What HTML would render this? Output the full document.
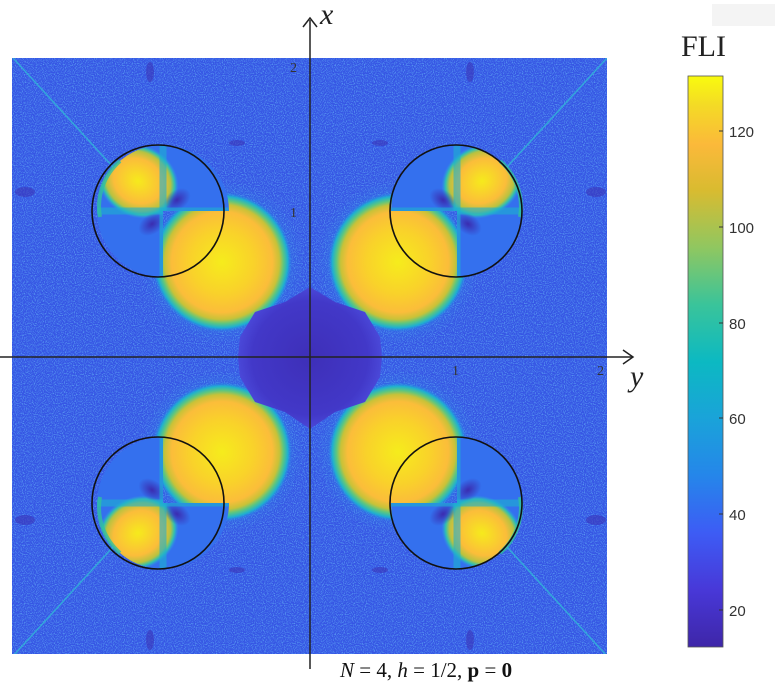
<!DOCTYPE html>
<html><head><meta charset="utf-8"><style>
html,body{margin:0;padding:0;background:#fff;}
svg{display:block;}
</style></head><body>
<svg width="775" height="686" viewBox="0 0 775 686" xmlns="http://www.w3.org/2000/svg">
<defs>
<linearGradient id="cb" x1="0" y1="1" x2="0" y2="0">
<stop offset="0" stop-color="#3e26a8"/><stop offset="0.1" stop-color="#4838d8"/>
<stop offset="0.2" stop-color="#3d5cf5"/><stop offset="0.3" stop-color="#2586ea"/>
<stop offset="0.4" stop-color="#1aa3d9"/><stop offset="0.5" stop-color="#0cb9c2"/>
<stop offset="0.6" stop-color="#3ac49a"/><stop offset="0.7" stop-color="#90c760"/>
<stop offset="0.8" stop-color="#d9bb30"/><stop offset="0.88" stop-color="#fbb93a"/>
<stop offset="0.95" stop-color="#f4db25"/><stop offset="1" stop-color="#f9fb0e"/>
</linearGradient>
<radialGradient id="blob">
<stop offset="0" stop-color="#f6ec1c"/><stop offset="0.45" stop-color="#f9d22a"/>
<stop offset="0.72" stop-color="#fbbd3a"/><stop offset="0.82" stop-color="#c8c238"/>
<stop offset="0.88" stop-color="#5cc680"/><stop offset="0.94" stop-color="#1eb0d0"/>
<stop offset="1" stop-color="#2a78ee" stop-opacity="0"/>
</radialGradient>
<radialGradient id="lobe">
<stop offset="0" stop-color="#f6ea1c"/><stop offset="0.6" stop-color="#fbbd3a"/>
<stop offset="0.8" stop-color="#b8c240"/><stop offset="0.9" stop-color="#30c0b0"/>
<stop offset="1" stop-color="#2a9aea" stop-opacity="0"/>
</radialGradient>
<radialGradient id="dark">
<stop offset="0" stop-color="#3a2cb0"/><stop offset="1" stop-color="#3a2cb0" stop-opacity="0"/>
</radialGradient>
<radialGradient id="halo">
<stop offset="0.5" stop-color="#2aa0e0" stop-opacity="0.5"/><stop offset="1" stop-color="#2aa0e0" stop-opacity="0"/>
</radialGradient>
<radialGradient id="ctr">
<stop offset="0" stop-color="#3e2fb8"/><stop offset="0.8" stop-color="#4238c8"/><stop offset="1" stop-color="#4a48d8"/>
</radialGradient>
<filter id="noise" x="0" y="0" width="100%" height="100%">
<feTurbulence type="fractalNoise" baseFrequency="0.9" numOctaves="1" seed="3"/>
<feColorMatrix type="matrix" values="0 0 0 0 0.15  0 0 0 0 0.55  0 0 0 0 0.95  0 0 0 2.2 -1.0"/>
</filter>
<clipPath id="plot"><rect x="12" y="58" width="595" height="596"/></clipPath>
<clipPath id="qc"><path d="M147,-146 L81,-146 A66,66 0 1,1 147,-80 Z"/></clipPath>
<g id="q">
<circle cx="88" cy="-95" r="82" fill="url(#halo)"/>
<circle cx="88" cy="-95" r="70" fill="url(#blob)"/>
<g clip-path="url(#qc)">
<rect x="70" y="-220" width="150" height="150" fill="#3470ee"/>
<ellipse cx="172" cy="-176" rx="42" ry="36" fill="url(#lobe)" transform="rotate(-30 172 -176)"/>
<ellipse cx="133" cy="-157" rx="15" ry="10" fill="url(#dark)" transform="rotate(35 133 -157)"/>
<ellipse cx="158" cy="-133" rx="15" ry="10" fill="url(#dark)" transform="rotate(35 158 -133)"/>
<line x1="147" y1="-215" x2="147" y2="-80" stroke="#1fb0d0" stroke-width="7" opacity="0.6"/>
<line x1="78" y1="-146" x2="215" y2="-146" stroke="#1fb0d0" stroke-width="7" opacity="0.6"/>
</g>
<path d="M 190 -196 A 60 60 0 0 1 210 -140" fill="none" stroke="#30c0a0" stroke-width="4" opacity="0.8"/>
<line x1="197" y1="-190" x2="297" y2="-299" stroke="#30b8d8" stroke-width="1.5" opacity="0.8"/>
</g>
</defs>
<g clip-path="url(#plot)">
<rect x="12" y="58" width="595" height="596" fill="#3656e4"/>
<rect x="12" y="58" width="595" height="596" filter="url(#noise)" opacity="0.9"/>
<g transform="translate(310,357)">
<use href="#q"/>
<use href="#q" transform="scale(-1,1)"/>
<use href="#q" transform="scale(1,-1)"/>
<use href="#q" transform="scale(-1,-1)"/>
<polygon points="0,-70 25,-55 55,-45 70,-20 72,0 70,20 55,45 25,55 0,72 -25,55 -55,45 -70,20 -72,0 -70,-20 -55,-45 -25,-55" fill="url(#ctr)"/>
</g>
<g fill="#3a2cb0" opacity="0.5">
<ellipse cx="150" cy="72" rx="4" ry="10"/><ellipse cx="470" cy="72" rx="4" ry="10"/>
<ellipse cx="150" cy="640" rx="4" ry="10"/><ellipse cx="470" cy="640" rx="4" ry="10"/>
<ellipse cx="25" cy="192" rx="10" ry="5"/><ellipse cx="25" cy="520" rx="10" ry="5"/>
<ellipse cx="596" cy="192" rx="10" ry="5"/><ellipse cx="596" cy="520" rx="10" ry="5"/>
<ellipse cx="237" cy="143" rx="8" ry="3"/><ellipse cx="380" cy="143" rx="8" ry="3"/>
<ellipse cx="237" cy="570" rx="8" ry="3"/><ellipse cx="380" cy="570" rx="8" ry="3"/>
</g>
</g>
<g fill="none" stroke="#111" stroke-width="1.6">
<circle cx="456" cy="211" r="66"/><circle cx="158" cy="211" r="66"/>
<circle cx="456" cy="503" r="66"/><circle cx="158" cy="503" r="66"/>
</g>
<g stroke="#222" stroke-width="1.5" fill="none">
<line x1="310" y1="20" x2="310" y2="669"/>
<line x1="0" y1="357" x2="632" y2="357"/>
<polyline points="303,27 310,18 317,27"/>
<polyline points="623,350 633,357 623,364"/>
</g>
<g font-family="'Liberation Serif',serif" fill="#333" font-size="14">
<text x="290" y="72">2</text><text x="290" y="217">1</text>
<text x="452" y="375">1</text><text x="597" y="375">2</text>
</g>
<text x="320" y="24" font-family="'Liberation Serif',serif" font-style="italic" font-size="30" fill="#222">x</text>
<text x="630" y="386" font-family="'Liberation Serif',serif" font-style="italic" font-size="30" fill="#222">y</text>
<text x="340" y="677" font-family="'Liberation Serif',serif" font-size="21" fill="#111"><tspan font-style="italic">N</tspan> = 4,  <tspan font-style="italic">h</tspan> = 1/2,  <tspan font-weight="bold">p</tspan> = <tspan font-weight="bold">0</tspan></text>
<rect x="712" y="4" width="63" height="22" fill="#f4f4f4"/>
<text x="681" y="56" font-family="'Liberation Serif',serif" font-size="30" fill="#222">FLI</text>
<rect x="688" y="76" width="35" height="571" fill="url(#cb)" stroke="#555" stroke-width="0.8"/>
<g stroke="#333" stroke-width="1">
<line x1="719" y1="131" x2="723" y2="131"/><line x1="719" y1="227" x2="723" y2="227"/>
<line x1="719" y1="323" x2="723" y2="323"/><line x1="719" y1="418" x2="723" y2="418"/>
<line x1="719" y1="514" x2="723" y2="514"/><line x1="719" y1="610" x2="723" y2="610"/>
</g>
<g font-family="'Liberation Sans',sans-serif" font-size="15" fill="#333">
<text x="729" y="137">120</text><text x="729" y="233">100</text>
<text x="729" y="329">80</text><text x="729" y="424">60</text>
<text x="729" y="520">40</text><text x="729" y="616">20</text>
</g>
</svg>
</body></html>
